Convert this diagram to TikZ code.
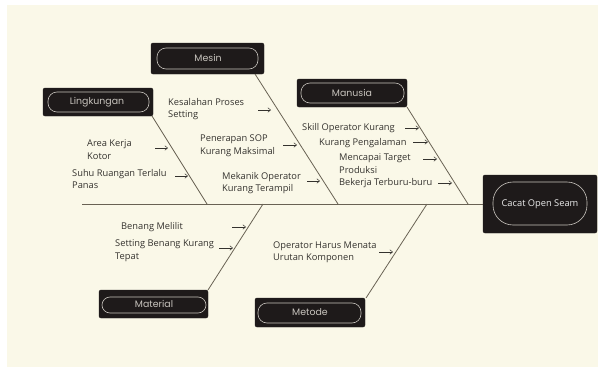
\documentclass[tikz,border=0pt]{standalone}
\usepackage{fontspec}
\setmainfont{Open Sans}
\newfontfamily\catfont{Poppins}
\usetikzlibrary{arrows.meta}
\definecolor{cream}{RGB}{250,248,232}
\definecolor{boxdark}{RGB}{30,26,26}
\definecolor{bone}{RGB}{105,98,84}
\definecolor{txt}{RGB}{52,50,46}
\definecolor{pill}{RGB}{200,196,190}
\tikzset{
  catbox/.style={fill=boxdark, draw=boxdark, rounded corners=2pt, inner sep=0pt},
  pillshape/.style={draw=pill, line width=0.6pt, rounded corners=9pt},
  cattext/.style={text=pill, font=\catfont\fontsize{9.4}{10}\selectfont, inner sep=0pt},
  headtext/.style={text=white!92!black, font=\fontsize{9.3}{10}\selectfont, inner sep=0pt},
  bonel/.style={draw=bone, line width=0.8pt},
  cause/.style={text=txt, font=\fontsize{9.3}{12.5}\selectfont, align=left, anchor=west, inner sep=0pt},
  causearrow/.style={draw=txt, line width=0.5pt, -{Straight Barb[length=2.8pt,width=4.5pt]}},
}
\begin{document}
\begin{tikzpicture}[x=1pt,y=-1pt]
\useasboundingbox (0,0) rectangle (598,367);
\fill[white] (0,0) rectangle (598,367);
\fill[cream] (7,5) rectangle (598,367);

% head
\draw[catbox] (483,175) rectangle (597,233);
\draw[pillshape, rounded corners=20pt] (493,182) rectangle (587,225);
\node[headtext] (head) at (540,204) {Cacat Open Seam};

% category boxes
\draw[catbox] (151,43) rectangle (264,74);
\draw[pillshape] (157,48) rectangle (258,69);
\node[cattext] (mesin) at (208,58) {Mesin};

\draw[catbox] (43,88) rectangle (153,116);
\draw[pillshape] (48,92) rectangle (149,112);
\node[cattext] (lingkungan) at (97,102) {Lingkungan};

\draw[catbox] (297,79) rectangle (407,107);
\draw[pillshape] (301,83) rectangle (404,103);
\node[cattext] (manusia) at (352,93) {Manusia};

\draw[catbox] (99,290) rectangle (208,318);
\draw[pillshape,rounded corners=8pt] (102,297) rectangle (206,313);
\node[cattext] (material) at (154,304) {Material};

\draw[catbox] (255,298) rectangle (365,327);
\draw[pillshape] (258,303) rectangle (361,323);
\node[cattext] (metode) at (310,312) {Metode};

% spine and bones
\coordinate (spL) at (82,204);
\coordinate (spR) at (483,204);
\draw[bonel] (spL) -- (spR);
\coordinate (lkTop) at (152,116);
\coordinate (lkEnd) at (207,204);
\draw[bonel] (lkTop) -- (lkEnd);
\coordinate (msTop) at (255,74);
\coordinate (msEnd) at (338,204);
\draw[bonel] (msTop) -- (msEnd);
\coordinate (mnTop) at (407,107);
\coordinate (mnEnd) at (468,204);
\draw[bonel] (mnTop) -- (mnEnd);
\coordinate (mtStart) at (263,204);
\coordinate (mtEnd) at (208,290);
\draw[bonel] (mtStart) -- (mtEnd);
\coordinate (meStart) at (427,204);
\coordinate (meEnd) at (366,298);
\draw[bonel] (meStart) -- (meEnd);

% causes - Lingkungan
\node[cause] (c1) at (87,149.5) {Area Kerja\\Kotor};
\coordinate (a1s) at (155,148); \coordinate (a1e) at (168,148);
\draw[causearrow] (a1s) -- (a1e);
\node[cause] (c2) at (72,179) {Suhu Ruangan Terlalu\\Panas};
\coordinate (a2s) at (175,176); \coordinate (a2e) at (188,176);
\draw[causearrow] (a2s) -- (a2e);

% causes - Mesin
\node[cause] (c3) at (168,109) {Kesalahan Proses\\Setting};
\coordinate (a3s) at (258,110); \coordinate (a3e) at (271,110);
\draw[causearrow] (a3s) -- (a3e);
\node[cause] (c4) at (200,145.5) {Penerapan SOP\\Kurang Maksimal};
\coordinate (a4s) at (283,145); \coordinate (a4e) at (297,145);
\draw[causearrow] (a4s) -- (a4e);
\node[cause] (c5) at (222,183) {Mekanik Operator\\Kurang Terampil};
\coordinate (a5s) at (307,181); \coordinate (a5e) at (320,181);
\draw[causearrow] (a5s) -- (a5e);

% causes - Manusia
\node[cause] (c6) at (302,128) {Skill Operator Kurang};
\coordinate (a6s) at (405,128); \coordinate (a6e) at (419,128);
\draw[causearrow] (a6s) -- (a6e);
\node[cause] (c7) at (319,143) {Kurang Pengalaman};
\coordinate (a7s) at (413,142); \coordinate (a7e) at (428,142);
\draw[causearrow] (a7s) -- (a7e);
\node[cause] (c8) at (339,163.5) {Mencapai Target\\Produksi};
\coordinate (a8s) at (423,159); \coordinate (a8e) at (437,159);
\draw[causearrow] (a8s) -- (a8e);
\node[cause] (c9) at (339,183) {Bekerja Terburu-buru};
\coordinate (a9s) at (438,183); \coordinate (a9e) at (452,183);
\draw[causearrow] (a9s) -- (a9e);

% causes - Material
\node[cause] (c10) at (121,227) {Benang Melilit};
\coordinate (a10s) at (232,227); \coordinate (a10e) at (246,227);
\draw[causearrow] (a10s) -- (a10e);
\node[cause] (c11) at (115,250.5) {Setting Benang Kurang\\Tepat};
\coordinate (a11s) at (219,248); \coordinate (a11e) at (233,248);
\draw[causearrow] (a11s) -- (a11e);

% causes - Metode
\node[cause] (c12) at (273,252) {Operator Harus Menata\\Urutan Komponen};
\coordinate (a12s) at (379,252); \coordinate (a12e) at (393,252);
\draw[causearrow] (a12s) -- (a12e);
\end{tikzpicture}
\end{document}
